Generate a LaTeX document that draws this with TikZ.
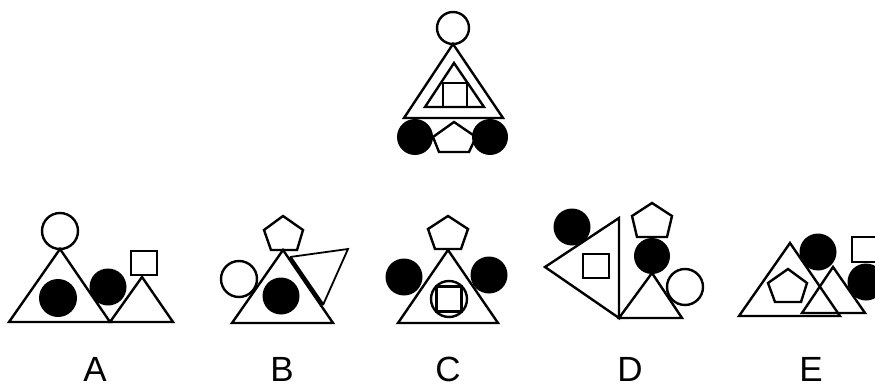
\documentclass[tikz,border=0pt]{standalone}
\usepackage{fontspec}
\newfontfamily\labelfont{Liberation Sans}
\usetikzlibrary{positioning}
\tikzset{
  shp/.style={line width=2.4pt, line join=miter},
  blk/.style={fill=black},
  lbl/.style={font=\labelfont\fontsize{35}{35}\selectfont, inner sep=0pt}
}

\begin{document}
\begin{tikzpicture}[x=1pt,y=-1pt]
    \useasboundingbox (0,0) rectangle (875,385);
    \clip (0,0) rectangle (875,385);
    % question
    \draw[shp] (453,28) circle (16);
    \draw[shp] (453,44) -- (404,118) -- (503,118) -- cycle;
    \draw[shp] (454,63) -- (425,107) -- (484,107) -- cycle;
    \draw[shp] (443,83) rectangle (467,107);
    \draw[shp] (454,122) -- (433,137) -- (439,152) -- (469,152) -- (476,137) -- cycle;
    \fill[blk] (415,137) circle (18);
    \fill[blk] (490,137) circle (18);
    % A
    \draw[shp] (60,231) circle (18);
    \draw[shp] (60,249) -- (9,322) -- (110,322) -- cycle;
    \fill[blk] (58,298) circle (19);
    \fill[blk] (108,287) circle (18.5);
    \draw[shp] (142,277) -- (110,322) -- (173,322) -- cycle;
    \draw[shp] (131,251) rectangle (157,275);
    % B
    \draw[shp] (283,216) -- (264,230) -- (271,250) -- (297,250) -- (303,230) -- cycle;
    \draw[shp] (283,250) -- (232,323) -- (333,323) -- cycle;
    \draw[shp] (239,279) circle (18);
    \fill[blk] (281,296) circle (18.5);
    \draw[line width=1.8pt] (290,257) -- (348,249) -- (323,305);
    \draw[line width=3.2pt] (290,257) -- (323,305);
    % C
    \draw[shp] (448,216) -- (428,229) -- (435,249) -- (461,249) -- (468,229) -- cycle;
    \draw[shp] (448,250) -- (398,323) -- (498,323) -- cycle;
    \fill[blk] (404,277) circle (18.5);
    \fill[blk] (489,275) circle (18.5);
    \draw[shp] (449,299) circle (18);
    \draw[shp] (436.5,286.5) rectangle (461.5,311.5);
    % D
    \fill[blk] (572,227) circle (18.5);
    \draw[shp] (545,267) -- (619,218) -- (619,318) -- cycle;
    \draw[shp] (583,254) rectangle (609,278);
    \draw[shp] (652,203) -- (632,216) -- (637,237) -- (667,237) -- (672,216) -- cycle;
    \fill[blk] (652,256) circle (18);
    \draw[shp] (652,273) -- (619,318) -- (682,318) -- cycle;
    \draw[shp] (685,287) circle (18);
    % E
    \draw[shp] (790,243) -- (739,316) -- (840,316) -- cycle;
    \draw[shp] (788,269) -- (768,283) -- (775,302) -- (801,302) -- (807,283) -- cycle;
    \fill[blk] (818,252) circle (18.5);
    \draw[shp] (833,267) -- (802,313) -- (865,313) -- cycle;
    \draw[shp] (852,237) rectangle (878,262);
    \fill[blk] (866,282) circle (18.5);
    % labels
    \node[lbl] (labA) at (95,369) {A};
    \node[lbl] (labB) at (282,369) {B};
    \node[lbl] (labC) at (448,369) {C};
    \node[lbl] (labD) at (630,369) {D};
    \node[lbl] (labE) at (811,369) {E};
\end{tikzpicture}
\end{document}
